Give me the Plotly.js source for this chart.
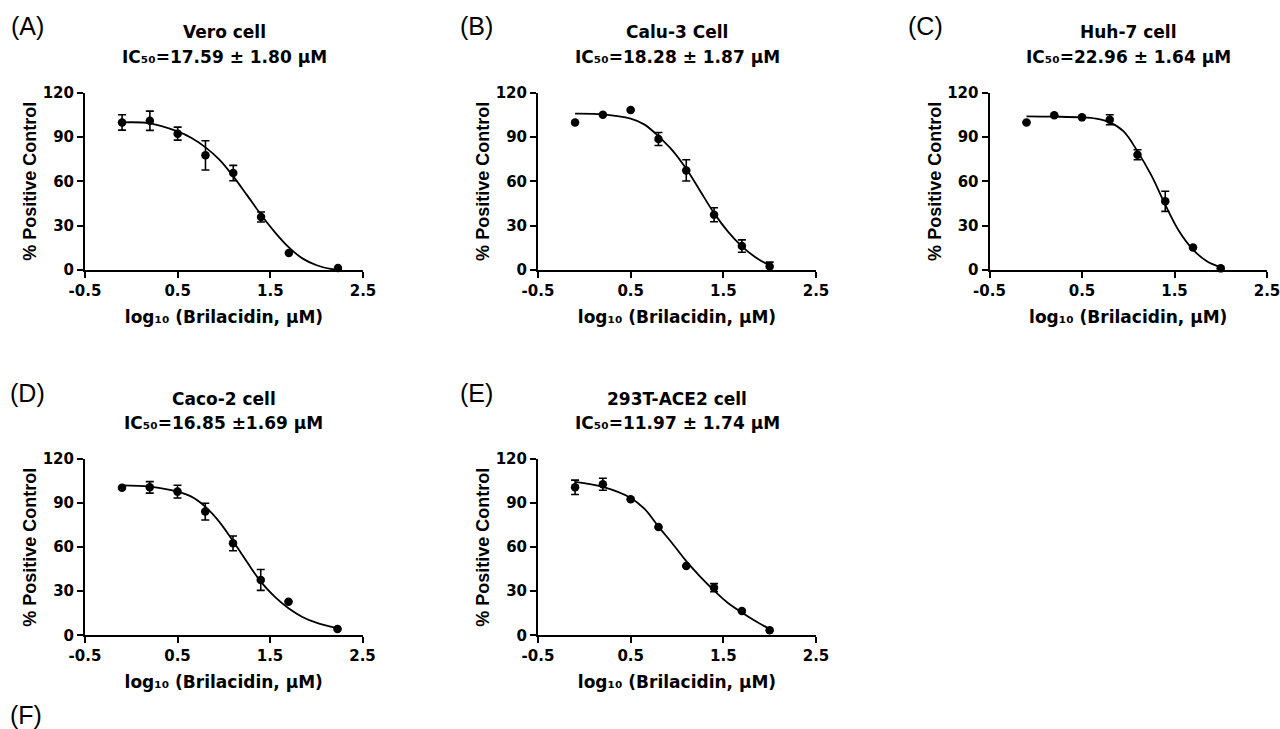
<!DOCTYPE html>
<html>
<head>
<meta charset="utf-8">
<script src="https://cdn.plot.ly/plotly-3.0.1.min.js"></script>
<style>html,body{margin:0;padding:0;background:#fff;}#chart{width:1280px;height:729px;}</style>
</head>
<body>
<div id="chart"></div>
<script>
// ---------- data ----------
const panelLetters = ["(A)", "(B)", "(C)", "(D)", "(E)"];
const cellNames = ["Vero cell", "Calu-3 Cell", "Huh-7 cell", "Caco-2 cell", "293T-ACE2 cell"];
const ic50Labels = [
  "IC₅₀=17.59 ± 1.80 μM",
  "IC₅₀=18.28 ± 1.87 μM",
  "IC₅₀=22.96 ± 1.64 μM",
  "IC₅₀=16.85 ±1.69 μM",
  "IC₅₀=11.97 ± 1.74 μM"
];
const xTickVals = [-0.5, 0.5, 1.5, 2.5];
const xTickText = ["-0.5", "0.5", "1.5", "2.5"];
const yTickVals = [0, 30, 60, 90, 120];
const yTickText = ["0", "30", "60", "90", "120"];
const xTitle = "log₁₀ (Brilacidin, μM)";
const yTitle = "% Positive Control";

// measured points: log10 dose, mean, error
const veroX   = [-0.1, 0.2, 0.5, 0.8, 1.1, 1.4, 1.7, 2.23];
const veroY   = [99.9, 101, 92.3, 77.6, 65.6, 35.9, 11.5, 1.4];
const veroErr = [5.2, 6.5, 4.4, 9.9, 5.2, 3.4, 0, 0];

const caluX   = [-0.1, 0.2, 0.5, 0.8, 1.1, 1.4, 1.7, 2.0];
const caluY   = [99.9, 105.1, 108.3, 88.7, 67.4, 37.4, 16.2, 2.3];
const caluErr = [0, 0, 0, 4.4, 7.2, 4.7, 4.2, 3.0];

const huhX    = [-0.1, 0.2, 0.5, 0.8, 1.1, 1.4, 1.7, 2.0];
const huhY    = [99.9, 104.7, 103.3, 101.7, 78.0, 46.5, 15.3, 1.1];
const huhErr  = [0, 0, 0, 3.4, 3.4, 6.8, 0, 0];

const cacoX   = [-0.1, 0.2, 0.5, 0.8, 1.1, 1.4, 1.7, 2.23];
const cacoY   = [100.5, 100.7, 97.8, 84.2, 62.6, 37.7, 22.9, 4.3];
const cacoErr = [0, 3.9, 4.3, 5.7, 5.0, 7.1, 0, 0];

const aceX    = [-0.1, 0.2, 0.5, 0.8, 1.1, 1.4, 1.7, 2.0];
const aceY    = [100.7, 102.8, 92.6, 73.7, 47.2, 32.4, 16.6, 3.4];
const aceErr  = [4.9, 4.1, 0, 0, 0, 2.8, 0, 0];

// fitted curves
const veroFitX = [-0.1, 0.2, 0.5, 0.65, 0.8, 0.95, 1.1, 1.25, 1.4, 1.55, 1.7, 1.85, 2.0, 2.15, 2.23];
const veroFitY = [99.9, 99.3, 93.8, 89.3, 83, 74.7, 63.4, 50.5, 37.4, 25.5, 15.3, 7.7, 3.2, 0.7, 0.2];

const caluFitX = [-0.1, 0.2, 0.5, 0.65, 0.8, 0.95, 1.1, 1.25, 1.4, 1.55, 1.7, 1.85, 2.0];
const caluFitY = [105.8, 105.3, 102.4, 98.4, 90.5, 81, 68.5, 53.5, 38.5, 26, 16, 8.5, 3];

const huhFitX  = [-0.1, 0.2, 0.5, 0.65, 0.8, 0.95, 1.1, 1.25, 1.4, 1.55, 1.7, 1.85, 2.0];
const huhFitY  = [104, 103.8, 103.3, 102.4, 99.9, 93.8, 80.3, 64, 44.2, 26.2, 13.8, 5.9, 1.8];

const cacoFitX = [-0.1, 0.2, 0.5, 0.65, 0.8, 0.95, 1.1, 1.25, 1.4, 1.55, 1.7, 1.85, 2.0, 2.23];
const cacoFitY = [102.1, 101.2, 97.8, 94.4, 87.6, 77.4, 64.2, 50.1, 36.5, 26.3, 18.4, 12.5, 8.6, 4.8];

const aceFitX  = [-0.1, 0.2, 0.5, 0.65, 0.8, 0.95, 1.1, 1.25, 1.4, 1.55, 1.7, 1.85, 2.0];
const aceFitY  = [104.5, 101, 93.5, 86, 74, 62.5, 50.5, 40, 30.5, 22, 15.5, 9.5, 4.3];

const panels = [
  {x: veroX, y: veroY, e: veroErr, fx: veroFitX, fy: veroFitY},
  {x: caluX, y: caluY, e: caluErr, fx: caluFitX, fy: caluFitY},
  {x: huhX,  y: huhY,  e: huhErr,  fx: huhFitX,  fy: huhFitY},
  {x: cacoX, y: cacoY, e: cacoErr, fx: cacoFitX, fy: cacoFitY},
  {x: aceX,  y: aceY,  e: aceErr,  fx: aceFitX,  fy: aceFitY}
];

// ---------- layout geometry (pixels in a 1280x729 page) ----------
const W = 1280, H = 729;
const PX = v => v / W;
const PY = v => 1 - v / H;
const colX = [[85, 363], [538, 816], [989.5, 1267], [85, 362.5], [538, 816]];
const rowY = [[92.7, 270], [92.7, 270], [92.7, 270], [459, 635.3], [459, 635.3]];
const letterPos = [[27, 25.5], [476, 25.5], [925, 25.5], [27, 393.3], [476, 393.3]];

const FONT = "DejaVu Sans, Verdana, sans-serif";
const data = [];
const layout = {
  width: W, height: H,
  margin: {l: 0, r: 0, t: 0, b: 0},
  paper_bgcolor: "#ffffff", plot_bgcolor: "#ffffff",
  showlegend: false,
  font: {family: FONT, color: "#000"},
  annotations: []
};

panels.forEach((p, i) => {
  const n = i + 1;
  const xa = n === 1 ? "x" : "x" + n;
  const ya = n === 1 ? "y" : "y" + n;
  data.push({
    type: "scatter", mode: "lines", x: p.fx, y: p.fy,
    xaxis: xa, yaxis: ya, hoverinfo: "skip",
    line: {color: "#000", width: 1.8, shape: "spline", smoothing: 1},
    cliponaxis: false
  });
  data.push({
    type: "scatter", mode: "markers", x: p.x, y: p.y,
    xaxis: xa, yaxis: ya,
    marker: {color: "#000", size: 8.5},
    error_y: {type: "data", array: p.e, visible: true, color: "#000", thickness: 1.6, width: 4},
    cliponaxis: false
  });
  const axCommon = {
    showline: true, linecolor: "#000", linewidth: 2,
    ticks: "outside", ticklen: 6, tickwidth: 2, tickcolor: "#000",
    showgrid: false, zeroline: false, fixedrange: true,
    ticklabeloverflow: "allow",
    tickfont: {family: FONT, size: 15, color: "#000", weight: "bold"}
  };
  layout["xaxis" + (n === 1 ? "" : n)] = Object.assign({}, axCommon, {
    domain: [PX(colX[i][0]), PX(colX[i][1])], anchor: ya,
    range: [-0.5, 2.5], tickmode: "array", tickvals: xTickVals, ticktext: xTickText,
    title: {text: xTitle, standoff: 12,
            font: {family: FONT, size: 17, color: "#000", weight: "bold"}}
  });
  layout["yaxis" + (n === 1 ? "" : n)] = Object.assign({}, axCommon, {
    domain: [PY(rowY[i][1]), PY(rowY[i][0])], anchor: xa,
    range: [0, 120], tickmode: "array", tickvals: yTickVals, ticktext: yTickText,
    title: {text: yTitle, standoff: 1,
            font: {family: "Liberation Sans, Arial, sans-serif", size: 18, color: "#000", weight: "bold"}}
  });
  const cx = (colX[i][0] + colX[i][1]) / 2;
  const top = rowY[i][0];
  const A = layout.annotations;
  A.push({text: panelLetters[i], xref: "paper", yref: "paper", x: PX(letterPos[i][0]), y: PY(letterPos[i][1]),
          xanchor: "center", yanchor: "middle", showarrow: false,
          font: {family: "Liberation Sans, Arial, sans-serif", size: 25, color: "#000"}});
  A.push({text: cellNames[i], xref: "paper", yref: "paper", x: PX(cx), y: PY(top - 60.5),
          xanchor: "center", yanchor: "middle", showarrow: false,
          font: {family: FONT, size: 17, color: "#000", weight: "bold"}});
  A.push({text: ic50Labels[i], xref: "paper", yref: "paper", x: PX(cx), y: PY(top - 36),
          xanchor: "center", yanchor: "middle", showarrow: false,
          font: {family: FONT, size: 17, color: "#000", weight: "bold"}});
});
layout.annotations.push({text: "(F)", xref: "paper", yref: "paper", x: PX(26), y: PY(715),
  xanchor: "center", yanchor: "middle", showarrow: false,
  font: {family: "Liberation Sans, Arial, sans-serif", size: 25, color: "#000"}});

Plotly.newPlot("chart", data, layout, {displayModeBar: false});
</script>
</body>
</html>
